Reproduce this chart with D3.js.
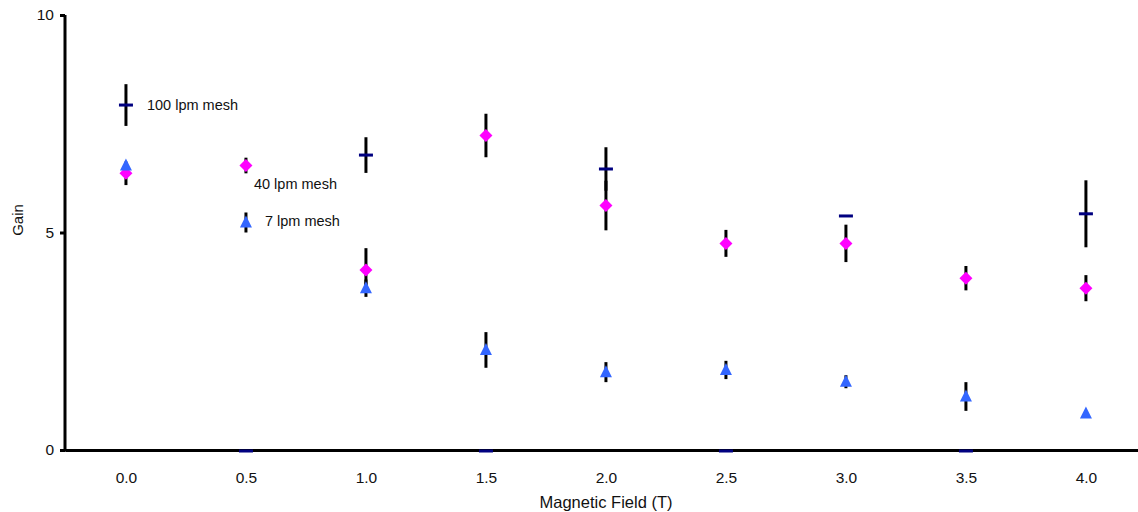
<!DOCTYPE html>
<html><head><meta charset="utf-8">
<script src="https://cdn.jsdelivr.net/npm/d3@7"></script>
<style>body{margin:0;background:#fff}svg{display:block;font-family:"Liberation Sans",Arial,sans-serif}
.tick text{font-size:15.5px;fill:#111}</style>
</head><body><svg id="c" width="1138" height="512"></svg>
<script>
const fields = [0.0, 0.5, 1.0, 1.5, 2.0, 2.5, 3.0, 3.5, 4.0];
const mesh100 = [7.93, 0, 6.78, 0, 6.46, 0, 5.38, 0, 5.43];
const mesh100Err = [0.48, 0, 0.41, 0, 0.5, 0, 0.02, 0, 0.77];
const mesh40 = [6.36, 6.54, 4.14, 7.23, 5.62, 4.75, 4.75, 3.95, 3.72];
const mesh40Err = [0.27, 0.18, 0.5, 0.5, 0.57, 0.31, 0.43, 0.28, 0.3];
const mesh7 = [6.54, 5.23, 3.72, 2.30, 1.79, 1.84, 1.57, 1.23, 0.84];
const mesh7Err = [0.0, 0.23, 0.2, 0.41, 0.23, 0.21, 0.15, 0.33, 0.0];
const xTicks = [0, 0.5, 1.0, 1.5, 2.0, 2.5, 3.0, 3.5, 4.0];
const yTicks = [0, 5, 10];
const labels = [
  {text: "100 lpm mesh", x: 0.0, y: 7.93, dx: 21, dy: 5},
  {text: "40 lpm mesh", x: 0.5, y: 6.54, dx: 8, dy: 23},
  {text: "7 lpm mesh", x: 0.5, y: 5.23, dx: 19, dy: 4}
];

const svg = d3.select("#c");
const x = d3.scaleLinear().domain([-0.254, 4.217]).range([65, 1138]);
const y = d3.scaleLinear().domain([0, 10]).range([450, 15]);

// error bars
const series = [
  {vals: mesh100, err: mesh100Err},
  {vals: mesh40, err: mesh40Err},
  {vals: mesh7, err: mesh7Err}
];
const eg = svg.append("g");
series.forEach(s => {
  fields.forEach((f, i) => {
    if (s.err[i] > 0.05) {
      eg.append("line").attr("x1", x(f)).attr("x2", x(f))
        .attr("y1", y(s.vals[i] + s.err[i])).attr("y2", y(s.vals[i] - s.err[i]))
        .attr("stroke", "#000").attr("stroke-width", 3);
    }
  });
});

// axes
const xAxis = svg.append("g").attr("transform", `translate(0,${y(0)})`)
  .call(d3.axisBottom(x).tickValues(xTicks).tickSize(0).tickSizeOuter(0).tickPadding(22).tickFormat(d3.format(".1f")));
const yAxis = svg.append("g").attr("transform", `translate(${x.range()[0]},0)`)
  .call(d3.axisLeft(y).tickValues(yTicks).tickSize(5).tickSizeOuter(0).tickPadding(6).tickFormat(d3.format("d")));
[xAxis, yAxis].forEach(a => {
  a.attr("font-size", null).attr("font-family", null);
  a.select(".domain").attr("stroke", "#000").attr("stroke-width", 3);
  a.selectAll(".tick line").attr("stroke", "#000").attr("stroke-width", 3);
});
yAxis.select(".domain").attr("d", `M0,${y(0)+1.5}V${y(10)}`);

// markers
const mg = svg.append("g");
fields.forEach((f, i) => {
  const cy = mesh100[i] === 0 ? y(0) + 1 : y(mesh100[i]);
  mg.append("rect").attr("x", x(f) - 7).attr("y", cy - 1.5).attr("width", 14).attr("height", 3).attr("fill", "#000080");
});
fields.forEach((f, i) => {
  mg.append("path").attr("transform", `translate(${x(f)},${y(mesh40[i])})`)
    .attr("d", "M0,-6.5L6.5,0L0,6.5L-6.5,0Z").attr("fill", "#ff00ff");
});
fields.forEach((f, i) => {
  mg.append("path").attr("transform", `translate(${x(f)},${y(mesh7[i])})`)
    .attr("d", "M0,-7L6,5L-6,5Z").attr("fill", "#3366ff");
});

// annotations
labels.forEach(l => {
  svg.append("text").attr("x", x(l.x) + l.dx).attr("y", y(l.y) + l.dy)
    .style("font-size", "14.5px").attr("fill", "#111").text(l.text);
});

svg.append("text").attr("transform", "translate(23,220) rotate(-90)")
  .attr("text-anchor", "middle").style("font-size", "15px").attr("fill", "#111").text("Gain");
svg.append("text").attr("x", 606).attr("y", 508).attr("text-anchor", "middle")
  .style("font-size", "16.5px").attr("fill", "#111").text("Magnetic Field (T)");
</script></body></html>
